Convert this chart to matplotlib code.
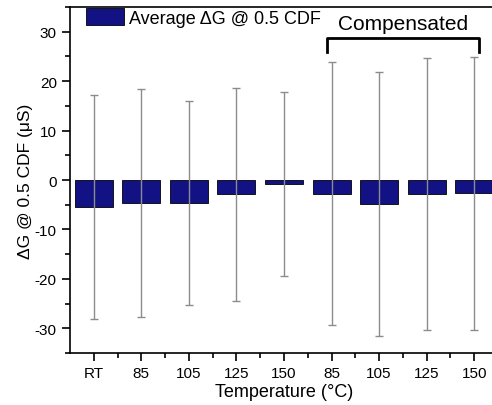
import numpy as np
import matplotlib.pyplot as plt
from matplotlib.ticker import MultipleLocator, FixedLocator

plt.rcParams["font.family"] = ["Liberation Sans", "DejaVu Sans"]
plt.rcParams["axes.unicode_minus"] = False

# data
temps = ["RT", "85", "105", "125", "150", "85", "105", "125", "150"]
avg_dg = [-5.5, -4.6, -4.6, -2.9, -0.8, -2.8, -4.8, -2.8, -2.7]
err_dg = [22.7, 23.1, 20.6, 21.6, 18.6, 26.6, 26.7, 27.5, 27.6]
comp_start, comp_end = 5, 8

x = np.arange(len(temps))

fig = plt.figure(figsize=(4.92, 4.06), dpi=100)
ax = fig.add_axes([70 / 492, 1 - 354 / 406, 428 / 492, 346 / 406])

ax.bar(x, avg_dg, width=0.8, color="#121285", edgecolor="black", linewidth=0.6,
       label="Average ΔG @ 0.5 CDF", zorder=2)
ax.errorbar(x, avg_dg, yerr=err_dg, fmt="none", ecolor="#8c8c8c", elinewidth=1.0,
            capsize=3, capthick=1.0, zorder=3)

ax.set_xlim(-0.5, len(temps) - 0.5)
ax.set_ylim(-35, 35)
ax.set_xticks(x)
ax.set_xticklabels(temps)
ax.xaxis.set_minor_locator(FixedLocator(x[:-1] + 0.5))
ax.yaxis.set_major_locator(MultipleLocator(10))
ax.yaxis.set_minor_locator(MultipleLocator(5))
ax.tick_params(which="major", direction="out", length=6, width=1.2, labelsize=11)
ax.tick_params(which="minor", direction="out", length=3.5, width=1.2)
for s in ["left", "bottom", "top", "right"]:
    ax.spines[s].set_linewidth(1.2)

ax.set_xlabel("Temperature (°C)", fontsize=13, labelpad=2)
ax.set_ylabel("ΔG @ 0.5 CDF (μS)", fontsize=12.5, labelpad=1)

ax.legend(loc="upper left", bbox_to_anchor=(16 / 428, 1.0 - 1 / 346), frameon=False,
          fontsize=13, handlelength=2.1, handleheight=1.1, handletextpad=0.3,
          borderpad=0.0, borderaxespad=0.0)

# bracket over compensated group
bx0, bx1 = comp_start - 0.1, comp_end + 0.1
ax.plot([bx0, bx0, bx1, bx1], [25.8, 28.8, 28.8, 25.8], color="black", lw=2,
        solid_joinstyle="round", zorder=4)
ax.text((bx0 + bx1) / 2, 31.6, "Compensated", ha="center", va="center", fontsize=15)

fig.savefig("out.png", dpi=100)
